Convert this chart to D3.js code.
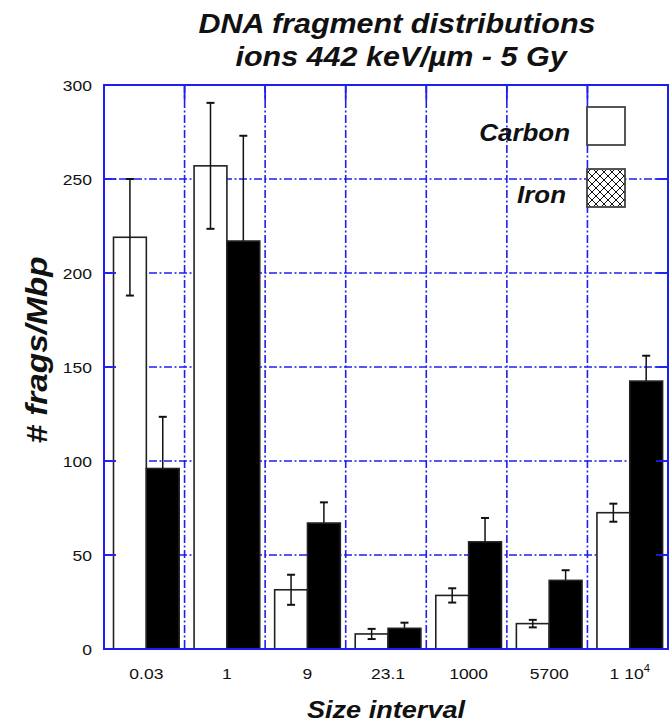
<!DOCTYPE html>
<html>
<head>
<meta charset="utf-8">
<script src="https://cdn.jsdelivr.net/npm/d3@7"></script>
<style>
  html, body { margin: 0; padding: 0; background: #ffffff; }
  svg { display: block; }
  text { font-family: "Liberation Sans", Arial, Helvetica, sans-serif; fill: #111; }
</style>
</head>
<body>
<script>
// Size intervals (Mbp) on the x axis
const categories = ["0.03", "1", "9", "23.1", "1000", "5700", "1 10^4"];
const seriesNames = ["Carbon", "Iron"];

// Fragment counts per Mbp and their error half-widths
const carbonValues = [219, 257, 31.5, 8, 28.5, 13.5, 72.5];
const carbonErrors = [31, 33.5, 8, 2.7, 3.8, 2, 4.8];
const ironValues   = [96, 217, 67, 11, 57, 36.5, 142.5];
const ironErrors   = [27.5, 56, 11, 3, 12.7, 5.4, 13.5];

const yTicks = [0, 50, 100, 150, 200, 250, 300];
const yGrid  = [50, 100, 150, 200, 250];

const W = 669, H = 722;
const margin = { top: 85, right: 1, bottom: 73, left: 104 };
const BLUE = "#1e1ef0";
const DASH = "8,2.5,2,2.5";
const SX = 1.13; // horizontal widening of the lettering

const svg = d3.select("body").append("svg")
  .attr("width", W).attr("height", H);

const defs = svg.append("defs");
const hatch = defs.append("pattern")
  .attr("id", "crosshatch")
  .attr("patternUnits", "userSpaceOnUse")
  .attr("width", 8).attr("height", 8);
hatch.append("rect").attr("width", 8).attr("height", 8).attr("fill", "#fff");
hatch.append("path").attr("d", "M0,0 L8,8 M-2,6 L2,10 M6,-2 L10,2")
  .attr("stroke", "#111").attr("stroke-width", 1);
hatch.append("path").attr("d", "M8,0 L0,8 M-2,2 L2,-2 M6,10 L10,6")
  .attr("stroke", "#111").attr("stroke-width", 1);

const x = d3.scaleBand()
  .domain(categories)
  .range([margin.left, W - margin.right])
  .paddingInner(0).paddingOuter(0);

// position of the two bars inside each size-interval band
const xs = d3.scaleBand()
  .domain(seriesNames)
  .range([x.bandwidth() * 0.118, x.bandwidth() * 0.933]);

const y = d3.scaleLinear()
  .domain([0, 300])
  .range([H - margin.bottom, margin.top]);

function placeText(sel, px, py, sx) {
  return sel.attr("transform", `translate(${px},${py}) scale(${sx},1)`);
}

// grid
const grid = svg.append("g");
grid.selectAll("line.h").data(yGrid).join("line")
  .attr("x1", margin.left).attr("x2", W - margin.right)
  .attr("y1", d => y(d)).attr("y2", d => y(d))
  .attr("stroke", BLUE).attr("stroke-width", 1.6)
  .attr("stroke-dasharray", DASH);
const bounds = categories.slice(1).map(c => x(c));
grid.selectAll("line.v").data(bounds).join("line")
  .attr("x1", d => d).attr("x2", d => d)
  .attr("y1", margin.top).attr("y2", H - margin.bottom)
  .attr("stroke", BLUE).attr("stroke-width", 1.6)
  .attr("stroke-dasharray", DASH);

// rows for drawing
const rows = categories.map((c, i) => ({
  cat: c,
  bars: [
    { s: "Carbon", v: carbonValues[i], e: carbonErrors[i] },
    { s: "Iron", v: ironValues[i], e: ironErrors[i] }
  ]
}));

const groups = svg.append("g").selectAll("g").data(rows).join("g")
  .attr("transform", d => `translate(${x(d.cat)},0)`);

function drawErrors(sel) {
  sel.append("line")
    .attr("x1", d => xs(d.s) + xs.bandwidth() / 2)
    .attr("x2", d => xs(d.s) + xs.bandwidth() / 2)
    .attr("y1", d => y(d.v - d.e)).attr("y2", d => y(d.v + d.e))
    .attr("stroke", "#111").attr("stroke-width", 1.5);
  [1, -1].forEach(sgn => {
    sel.append("line")
      .attr("x1", d => xs(d.s) + xs.bandwidth() / 2 - 4)
      .attr("x2", d => xs(d.s) + xs.bandwidth() / 2 + 4)
      .attr("y1", d => y(d.v + sgn * d.e)).attr("y2", d => y(d.v + sgn * d.e))
      .attr("stroke", "#111").attr("stroke-width", 2);
  });
}

// Iron error bars sit behind the solid bars, Carbon ones in front
drawErrors(groups.selectAll("g.errI").data(d => d.bars.filter(b => b.s === "Iron"))
  .join("g").attr("class", "errI"));

groups.selectAll("rect").data(d => d.bars).join("rect")
  .attr("x", d => xs(d.s))
  .attr("width", xs.bandwidth())
  .attr("y", d => y(d.v))
  .attr("height", d => y(0) - y(d.v))
  .attr("fill", d => d.s === "Carbon" ? "#ffffff" : "#000000")
  .attr("stroke", "#222").attr("stroke-width", 1.6);

drawErrors(groups.selectAll("g.errC").data(d => d.bars.filter(b => b.s === "Carbon"))
  .join("g").attr("class", "errC"));

// frame and ticks
const frame = svg.append("g");
frame.append("rect")
  .attr("x", margin.left).attr("y", margin.top)
  .attr("width", W - margin.left - margin.right)
  .attr("height", H - margin.top - margin.bottom)
  .attr("fill", "none").attr("stroke", BLUE).attr("stroke-width", 2);
frame.selectAll("line.lt").data(yTicks).join("line")
  .attr("x1", margin.left).attr("x2", margin.left + 12)
  .attr("y1", d => y(d)).attr("y2", d => y(d))
  .attr("stroke", BLUE).attr("stroke-width", 1.8);
frame.selectAll("line.rt").data(yTicks).join("line")
  .attr("x1", W - margin.right - 12).attr("x2", W - margin.right)
  .attr("y1", d => y(d)).attr("y2", d => y(d))
  .attr("stroke", BLUE).attr("stroke-width", 1.8);
frame.selectAll("line.tt").data(bounds).join("line")
  .attr("x1", d => d).attr("x2", d => d)
  .attr("y1", margin.top).attr("y2", margin.top + 15)
  .attr("stroke", BLUE).attr("stroke-width", 1.8);

// y tick labels
svg.append("g").selectAll("text").data(yTicks).join("text")
  .attr("text-anchor", "end")
  .style("font-size", "15.5px")
  .text(d => d)
  .each(function (d) { placeText(d3.select(this), 92, y(d) + 5.5, SX); });

// x tick labels
svg.append("g").selectAll("text").data(categories).join("text")
  .attr("text-anchor", "middle")
  .style("font-size", "15.5px")
  .each(function (d) {
    const t = d3.select(this);
    const cx = x(d) + (xs.range()[0] + xs.range()[1]) / 2;
    placeText(t, cx, 679, SX);
    const parts = d.split("^");
    t.append("tspan").text(parts[0]);
    if (parts[1]) {
      t.append("tspan").attr("dy", -7).style("font-size", "10px").text(parts[1]);
    }
  });

// titles
const bi = s => s.style("font-weight", "bold").style("font-style", "italic");
placeText(bi(svg.append("text")).attr("text-anchor", "middle").style("font-size", "27px")
  .text("DNA fragment distributions"), 397, 33, SX);
placeText(bi(svg.append("text")).attr("text-anchor", "middle").style("font-size", "27px")
  .text("ions 442 keV/\u00b5m - 5 Gy"), 401, 66, SX);

placeText(bi(svg.append("text")).attr("text-anchor", "middle").style("font-size", "24px")
  .text("Size interval"), 386, 718, SX);

bi(svg.append("text")).attr("text-anchor", "middle").style("font-size", "29px")
  .attr("transform", "translate(47,350) rotate(-90) scale(1.15,1)")
  .text("# frags/Mbp");

// legend
const legendRows = [
  { name: seriesNames[0], fill: "#ffffff", y: 107, tx: 570 },
  { name: seriesNames[1], fill: "url(#crosshatch)", y: 169, tx: 566 }
];
const lg = svg.append("g");
legendRows.forEach(r => {
  lg.append("rect").attr("x", 587).attr("y", r.y).attr("width", 38).attr("height", 38)
    .attr("fill", r.fill).attr("stroke", "#444").attr("stroke-width", 1.8);
  placeText(bi(lg.append("text")).attr("text-anchor", "end").style("font-size", "24px")
    .text(r.name), r.tx, r.y + 34, 1.08);
});
</script>
</body>
</html>
